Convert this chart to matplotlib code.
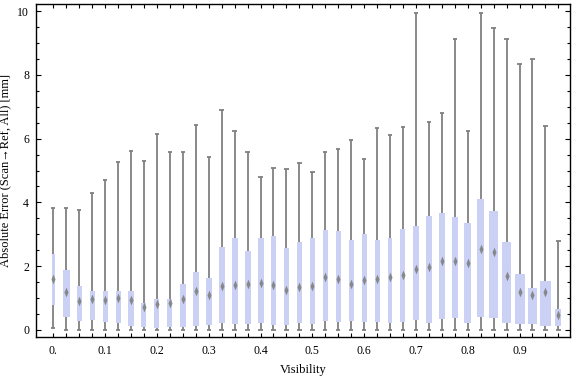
import matplotlib
matplotlib.use("Agg")
import matplotlib.pyplot as plt
from matplotlib.ticker import FixedLocator
from matplotlib.path import Path

plt.rcParams['font.family'] = ['Liberation Serif', 'DejaVu Serif']

visibility = [0.0, 0.025, 0.05, 0.075, 0.1, 0.125, 0.15, 0.175, 0.2, 0.225,
              0.25, 0.275, 0.3, 0.325, 0.35, 0.375, 0.4, 0.425, 0.45, 0.475,
              0.5, 0.525, 0.55, 0.575, 0.6, 0.625, 0.65, 0.675, 0.7, 0.725,
              0.75, 0.775, 0.8, 0.825, 0.85, 0.875, 0.9, 0.925, 0.95, 0.975]

whisker_low = [0.06, 0.0, 0.0, 0.0, 0.0, 0.0, 0.0, 0.0, 0.0, 0.0,
               0.0, 0.0, 0.0, 0.0, 0.0, 0.0, 0.0, 0.0, 0.0, 0.0,
               0.0, 0.0, 0.0, 0.0, 0.0, 0.0, 0.0, 0.0, 0.0, 0.0,
               0.0, 0.0, 0.0, 0.0, 0.0, 0.0, 0.0, 0.0, 0.0, 0.0]

q1 = [0.78, 0.40, 0.29, 0.32, 0.26, 0.23, 0.13, 0.10, 0.07, 0.10,
      0.10, 0.13, 0.17, 0.22, 0.20, 0.20, 0.21, 0.17, 0.15, 0.21,
      0.20, 0.29, 0.26, 0.29, 0.26, 0.24, 0.23, 0.26, 0.32, 0.23,
      0.34, 0.39, 0.23, 0.42, 0.39, 0.23, 0.20, 0.18, 0.14, 0.14]

median = [1.59, 1.18, 0.90, 0.97, 0.93, 1.00, 0.94, 0.71, 0.83, 0.84,
          0.97, 1.21, 1.10, 1.39, 1.41, 1.43, 1.48, 1.41, 1.24, 1.36,
          1.37, 1.67, 1.60, 1.44, 1.57, 1.60, 1.67, 1.71, 1.92, 1.97,
          2.15, 2.17, 2.09, 2.54, 2.45, 1.70, 1.20, 1.11, 1.20, 0.48]

q3 = [2.38, 1.88, 1.38, 1.22, 1.22, 1.22, 1.22, 0.84, 0.97, 0.97,
      1.44, 1.82, 1.63, 2.60, 2.88, 2.48, 2.88, 2.95, 2.57, 2.76,
      2.87, 3.13, 3.09, 2.82, 3.01, 2.81, 2.88, 3.16, 3.26, 3.57,
      3.66, 3.54, 3.34, 4.10, 3.73, 2.76, 1.76, 1.32, 1.54, 0.65]

whisker_high = [3.81, 3.81, 3.75, 4.29, 4.69, 5.26, 5.60, 5.29, 6.13, 5.57,
                5.57, 6.42, 5.41, 6.89, 6.23, 5.57, 4.79, 5.07, 5.04, 5.23,
                4.94, 5.57, 5.66, 5.95, 5.35, 6.32, 6.10, 6.35, 9.93, 6.51,
                6.79, 9.11, 6.23, 9.93, 9.46, 9.11, 8.33, 8.49, 6.39, 2.80]

# box widths (in Visibility units), they vary per bin
box_width = [0.0068, 0.0135, 0.0102, 0.0097, 0.0097, 0.0097, 0.0102, 0.0097, 0.0097, 0.0097,
             0.0122, 0.0122, 0.0116, 0.0116, 0.0116, 0.0116, 0.0116, 0.0102, 0.0097, 0.0102,
             0.0097, 0.0097, 0.0097, 0.0097, 0.0097, 0.0097, 0.0087, 0.0097, 0.0116, 0.0122,
             0.0116, 0.0116, 0.0129, 0.0135, 0.0168, 0.0174, 0.0193, 0.0187, 0.0212, 0.0116]

x_tick_labels = ['0.', '0.1', '0.2', '0.3', '0.4', '0.5', '0.6', '0.7', '0.8', '0.9']
x_tick_values = [0.0, 0.1, 0.2, 0.3, 0.4, 0.5, 0.6, 0.7, 0.8, 0.9]
y_tick_values = [0, 2, 4, 6, 8, 10]

fig = plt.figure(figsize=(5.76, 3.77), dpi=100)
ax = fig.add_axes([36/576, 1-337/377, 534/576, 333/377])

box_color = '#cad1f5'
whisk_color = '#808080'
cap_half = 0.0042

for x, lo, a, m, b, hi, w in zip(visibility, whisker_low, q1, median, q3, whisker_high, box_width):
    ax.vlines(x, lo, hi, color=whisk_color, lw=1.3, zorder=1)
    ax.hlines([lo, hi], x - cap_half, x + cap_half, color=whisk_color, lw=1.3, zorder=1)
    ax.bar(x, b - a, bottom=a, width=w, color=box_color, edgecolor='none', zorder=2)

slim_diamond = Path([(0, 1), (0.42, 0), (0, -1), (-0.42, 0), (0, 1)],
                    [Path.MOVETO, Path.LINETO, Path.LINETO, Path.LINETO, Path.CLOSEPOLY])
ax.plot(visibility, median, linestyle='none', marker=slim_diamond, markersize=7,
        color='#808080', markeredgewidth=0, alpha=0.9, zorder=3)

ax.set_xlim(-0.0334, 0.9974)
ax.set_ylim(-0.22, 10.22)

ax.set_xticks(x_tick_values)
ax.set_xticklabels(x_tick_labels)
ax.xaxis.set_minor_locator(FixedLocator(visibility))
ax.set_yticks(y_tick_values)
ax.set_yticklabels([str(v) for v in y_tick_values])
ax.yaxis.set_minor_locator(FixedLocator([v * 0.5 for v in range(0, 21)]))

ax.tick_params(axis='x', which='both', direction='in', top=True, bottom=True,
               length=3.0, width=0.8, labelsize=8.5, pad=6)
ax.tick_params(axis='y', which='major', direction='in', left=True, right=True,
               length=3.6, width=0.8, labelsize=8.5, pad=5)
ax.tick_params(axis='y', which='minor', direction='in', left=True, right=True,
               length=2.0, width=0.8)
for s in ax.spines.values():
    s.set_linewidth(1.0)
    s.set_color('black')

ax.set_xlabel('Visibility', fontsize=9, labelpad=5)
ax.set_ylabel('Absolute Error (Scan\u2192Ref, All) [mm]', fontsize=9, labelpad=4)

fig.savefig('out.png', dpi=100)
